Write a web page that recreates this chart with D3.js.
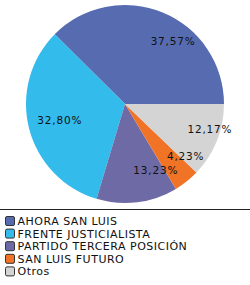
<!DOCTYPE html>
<html>
<head>
<meta charset="utf-8">
<script src="https://cdn.jsdelivr.net/npm/d3@7"></script>
<style>
  body { margin: 0; background: #fff; }
  svg { display: block; font-family: "DejaVu Sans", Verdana, sans-serif; }
</style>
</head>
<body>
<svg id="chart"></svg>
<script>
// Data
const parties = ["AHORA SAN LUIS", "FRENTE JUSTICIALISTA", "PARTIDO TERCERA POSICIÓN", "SAN LUIS FUTURO", "Otros"];
const shares = [37.57, 32.80, 13.23, 4.23, 12.17];
const colors = ["#566bb0", "#33bbeb", "#6e6aa5", "#f07326", "#d4d4d4"];

const width = 250;
const height = 285;
const cx = 125, cy = 104, radius = 99;

const svg = d3.select("#chart")
    .attr("width", width)
    .attr("height", height);

const data = parties.map((p, i) => ({ name: p, value: shares[i], color: colors[i] }));

// counter-clockwise starting at 3 o'clock
const pie = d3.pie()
    .value(d => d.value)
    .sort(null)
    .startAngle(Math.PI / 2)
    .endAngle(Math.PI / 2 - 2 * Math.PI);

const arc = d3.arc().innerRadius(0).outerRadius(radius);
const labelArc = d3.arc().innerRadius(radius * 0.68).outerRadius(radius * 0.68);

const g = svg.append("g").attr("transform", `translate(${cx},${cy})`);
const arcs = pie(data);

g.selectAll("path")
    .data(arcs)
    .enter().append("path")
    .attr("d", arc)
    .attr("fill", d => d.data.color);

const fmt = v => v.toFixed(2).replace(".", ",") + "%";

g.selectAll("text")
    .data(arcs)
    .enter().append("text")
    .attr("transform", d => `translate(${labelArc.centroid(d)})`)
    .attr("text-anchor", d => labelArc.centroid(d)[0] < -30 ? "middle" : "start")
    .attr("dy", "0.35em")
    .attr("font-size", 10.5)
    .attr("letter-spacing", 0.8)
    .attr("fill", "#111")
    .text(d => fmt(d.data.value));

// Legend
svg.append("line")
    .attr("x1", 0).attr("x2", width)
    .attr("y1", 209.5).attr("y2", 209.5)
    .attr("stroke", "#222");

const rowY = d3.scaleBand()
    .domain(parties)
    .range([216, 279]);

const legend = svg.selectAll(".legend")
    .data(data)
    .enter().append("g")
    .attr("class", "legend")
    .attr("transform", d => `translate(5,${rowY(d.name)})`);

legend.append("rect")
    .attr("x", 0.5).attr("y", 0.5)
    .attr("width", 9).attr("height", 9)
    .attr("rx", 1.5)
    .attr("fill", d => d.color)
    .attr("stroke", "#333");

legend.append("text")
    .attr("x", 12.5)
    .attr("y", 5.2)
    .attr("dy", "0.35em")
    .attr("font-size", 11)
    .attr("letter-spacing", 0.5)
    .attr("fill", "#111")
    .text(d => d.name);
</script>
</body>
</html>
